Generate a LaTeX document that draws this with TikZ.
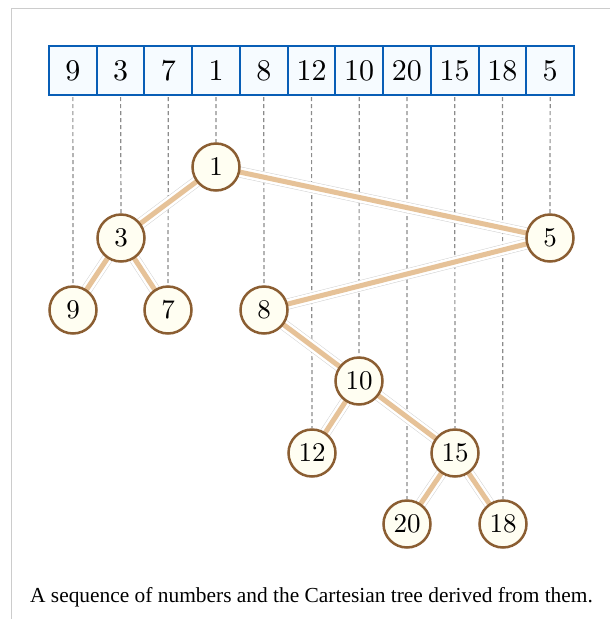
\documentclass[tikz,border=0pt]{standalone}
\usepackage{fontspec}
\newfontfamily\capfont{Liberation Serif}
\newfontfamily\numfont{lmroman10-regular}[Extension=.otf]
\usetikzlibrary{backgrounds}
\definecolor{cellblue}{RGB}{8,94,182}
\definecolor{cellfill}{RGB}{246,251,255}
\definecolor{nodebrown}{RGB}{139,94,50}
\definecolor{nodefill}{RGB}{255,254,242}
\definecolor{edgetan}{RGB}{230,194,152}
\definecolor{guidegray}{RGB}{140,140,140}
\definecolor{framegray}{RGB}{204,204,204}
\tikzset{
  cell/.style={draw=cellblue, fill=cellfill, line width=2pt, minimum width=47.73pt,
    minimum height=49pt, inner sep=0pt, outer sep=0pt, font=\numfont\fontsize{30}{32}\selectfont},
  tnode/.style={circle, draw=nodebrown, fill=nodefill, line width=2.5pt, minimum size=47pt,
    inner sep=0pt, font=\numfont\fontsize{27}{30}\selectfont},
  guide/.style={draw=guidegray, line width=1.2pt, dash pattern=on 4pt off 3pt},
  halo/.style={draw=gray!35, line width=11pt},
  haloin/.style={draw=white, line width=10pt},
  treeedge/.style={draw=edgetan, line width=5pt}
}
\begin{document}
\begin{tikzpicture}[x=1pt,y=-1pt]
\useasboundingbox (0,0) rectangle (610,619);
\draw[framegray, line width=1pt] (11,619) coordinate (fa) -- (11,8) coordinate (fb) -- (610,8) coordinate (fc);
% array
\foreach \v [count=\i] in {9,3,7,1,8,12,10,20,15,18,5}
  \node[cell] (c\i) at ({49+47.73*(\i-0.5)},70.5) {\v};
% tree nodes
\node[tnode] (t1)  at (216,167) {1};
\node[tnode] (t3)  at (121,238) {3};
\node[tnode] (t5)  at (550,238) {5};
\node[tnode] (t9)  at (73,310)  {9};
\node[tnode] (t7)  at (168,310) {7};
\node[tnode] (t8)  at (264,310) {8};
\node[tnode] (t10) at (359,381) {10};
\node[tnode] (t12) at (312,453) {12};
\node[tnode] (t15) at (455,453) {15};
\node[tnode] (t20) at (407,524) {20};
\node[tnode] (t18) at (503,524) {18};
\begin{pgfonlayer}{background}
\foreach \v [count=\i] in {9,3,7,1,8,12,10,20,15,18,5}
  \draw[guide, shorten <=2pt] (c\i.south) -- (t\v.north);
\foreach \a/\b in {1/3,1/5,3/9,3/7,5/8,8/10,10/12,10/15,15/20,15/18}{
  \draw[halo] (t\a.center) -- (t\b.center);
  \draw[haloin] (t\a.center) -- (t\b.center);
}
\foreach \a/\b in {1/3,1/5,3/9,3/7,5/8,8/10,10/12,10/15,15/20,15/18}
  \draw[treeedge] (t\a.center) -- (t\b.center);
\end{pgfonlayer}
\node[font=\capfont\fontsize{21.4}{24}\selectfont, anchor=base, inner sep=0pt] (cap) at (311.5,602)
  {A sequence of numbers and the Cartesian tree derived from them.};
\end{tikzpicture}
\end{document}
